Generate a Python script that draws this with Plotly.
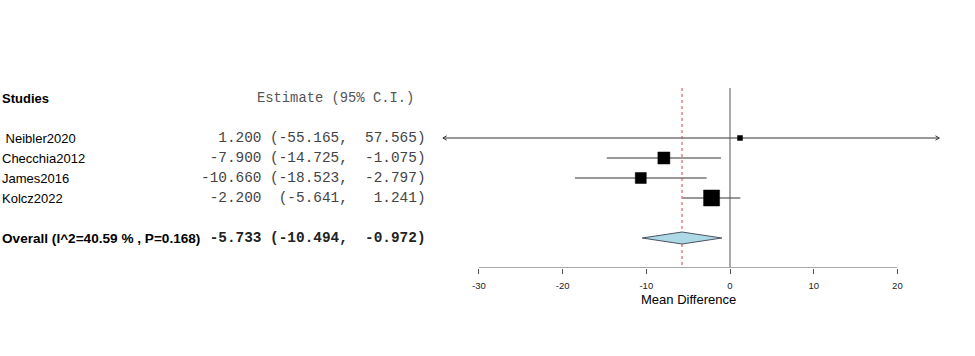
import plotly.graph_objects as go

# ---- data ----
studies = [" Neibler2020", "Checchia2012", "James2016", "Kolcz2022"]
est = [1.200, -7.900, -10.660, -2.200]
lo = [-55.165, -14.725, -18.523, -5.641]
hi = [57.565, -1.075, -2.797, 1.241]
weights_size = [5, 12, 11, 16]          # square marker sizes (px)
overall_label = "Overall (I^2=40.59 % , P=0.168)"
overall = [-5.733, -10.494, -0.972]
tick_vals = [-30, -20, -10, 0, 10, 20]
xlim = [-34.3, 25.0]                    # clipping limits (arrows)
axis_label = "Mean Difference"

# ---- layout geometry ----
W, H = 975, 356
px_per_unit = 8.37
x0_px = 730.0                           # pixel of x=0
row0_px = 98.0                          # pixel of row 0
row_h = 20.0
axis_px = 267.5

x_range = [(0 - x0_px) / px_per_unit, (W - x0_px) / px_per_unit]
y_top = (0 - row0_px) / row_h
y_bot = (axis_px - row0_px) / row_h
y_dom0 = (H - axis_px) / H

study_rows = [2, 3, 4, 5]
overall_row = 7
header_row = 0

fig = go.Figure()
line_col = "#333333"

# CI lines and arrows
for r, e, l, h in zip(study_rows, est, lo, hi):
    cl, ch = max(l, xlim[0]), min(h, xlim[1])
    fig.add_trace(go.Scatter(x=[cl, ch], y=[r, r], mode="lines",
                             line=dict(color=line_col, width=1), hoverinfo="skip"))
    if l < xlim[0]:
        fig.add_trace(go.Scatter(x=[cl + 0.45, cl, cl + 0.45], y=[r - 0.11, r, r + 0.11],
                                 mode="lines", line=dict(color=line_col, width=1), hoverinfo="skip"))
    if h > xlim[1]:
        fig.add_trace(go.Scatter(x=[ch - 0.45, ch, ch - 0.45], y=[r - 0.11, r, r + 0.11],
                                 mode="lines", line=dict(color=line_col, width=1), hoverinfo="skip"))

# zero line
fig.add_trace(go.Scatter(x=[0, 0], y=[-0.5, y_bot], mode="lines",
                         line=dict(color="#555555", width=1), hoverinfo="skip"))
# overall estimate dashed line
fig.add_trace(go.Scatter(x=[overall[0], overall[0]], y=[-0.5, y_bot], mode="lines",
                         line=dict(color="#d04545", width=1, dash="3px,3px"), hoverinfo="skip"))

# squares
fig.add_trace(go.Scatter(x=est, y=study_rows, mode="markers",
                         marker=dict(symbol="square", size=weights_size, color="black",
                                     opacity=1, line=dict(width=0.5, color="black")),
                         hoverinfo="skip", cliponaxis=False))

# diamond
dh = 0.3
fig.add_trace(go.Scatter(x=[overall[1], overall[0], overall[2], overall[0], overall[1]],
                         y=[overall_row, overall_row - dh, overall_row, overall_row + dh, overall_row],
                         mode="lines", fill="toself", fillcolor="#add8e6",
                         line=dict(color="#4a5560", width=1), hoverinfo="skip"))

# axis line
fig.add_trace(go.Scatter(x=[tick_vals[0], tick_vals[-1]], y=[y_bot, y_bot], mode="lines",
                         line=dict(color="#555555", width=1), hoverinfo="skip", cliponaxis=False))

# ---- text columns ----
sans = "Arial, Liberation Sans, sans-serif"
mono = "Courier New, Liberation Mono, monospace"
ann = []
ann.append(dict(x=0.0, xref="paper", y=header_row, yref="y", text="<b>Studies</b>",
                xanchor="left", showarrow=False, font=dict(family=sans, size=13, color="black")))
ann.append(dict(x=255 / W, xref="paper", y=header_row, yref="y", text="Estimate (95% C.I.)",
                xanchor="left", showarrow=False, font=dict(family=mono, size=13.8, color="#555555")))

def ci_text(e, l, h):
    a = f"{e:.3f}"
    b = f"({l:.3f},"
    c = f"{h:.3f})"
    return f"{a:>7} {b:>9} {c:>8}"

col_right = 428 / W
for r, s, e, l, h in zip(study_rows, studies, est, lo, hi):
    ann.append(dict(x=0.0, xref="paper", y=r, yref="y", text=s.replace(" ", "&nbsp;"),
                    xanchor="left", showarrow=False, font=dict(family=sans, size=13, color="black")))
    ann.append(dict(x=col_right, xref="paper", y=r, yref="y",
                    text=ci_text(e, l, h).replace(" ", "&nbsp;"),
                    xanchor="right", showarrow=False, font=dict(family=mono, size=14.4, color="#444444")))

ann.append(dict(x=0.0, xref="paper", y=overall_row, yref="y", text=f"<b>{overall_label}</b>",
                xanchor="left", showarrow=False, font=dict(family=sans, size=13.6, color="black")))
ann.append(dict(x=col_right, xref="paper", y=overall_row, yref="y",
                text="<b>" + ci_text(*overall).replace(" ", "&nbsp;") + "</b>",
                xanchor="right", showarrow=False, font=dict(family=mono, size=14.4, color="#222222")))

ann.append(dict(x=(tick_vals[0] + tick_vals[-1]) / 2, xref="x", y=(H - 299) / H, yref="paper",
                text=axis_label, showarrow=False, xanchor="center", yanchor="middle",
                font=dict(family=sans, size=13, color="black")))

fig.update_layout(
    width=W, height=H,
    margin=dict(l=0, r=0, t=0, b=0),
    paper_bgcolor="white", plot_bgcolor="white",
    showlegend=False,
    annotations=ann,
    xaxis=dict(range=x_range, domain=[0, 1], showgrid=False, zeroline=False, showline=False,
               tickmode="array", tickvals=tick_vals, ticktext=[str(v) for v in tick_vals],
               ticks="outside", ticklen=5, tickcolor="#555555", tickwidth=1,
               ticklabelstandoff=4,
               tickfont=dict(family=sans, size=9.5, color="#222222"), fixedrange=True),
    yaxis=dict(range=[y_bot, y_top], domain=[y_dom0, 1], visible=False, fixedrange=True),
)

fig.write_html("out.html", config={"displayModeBar": False, "staticPlot": True},
               post_script="document.body.style.margin='0';document.body.style.overflow='hidden';")
